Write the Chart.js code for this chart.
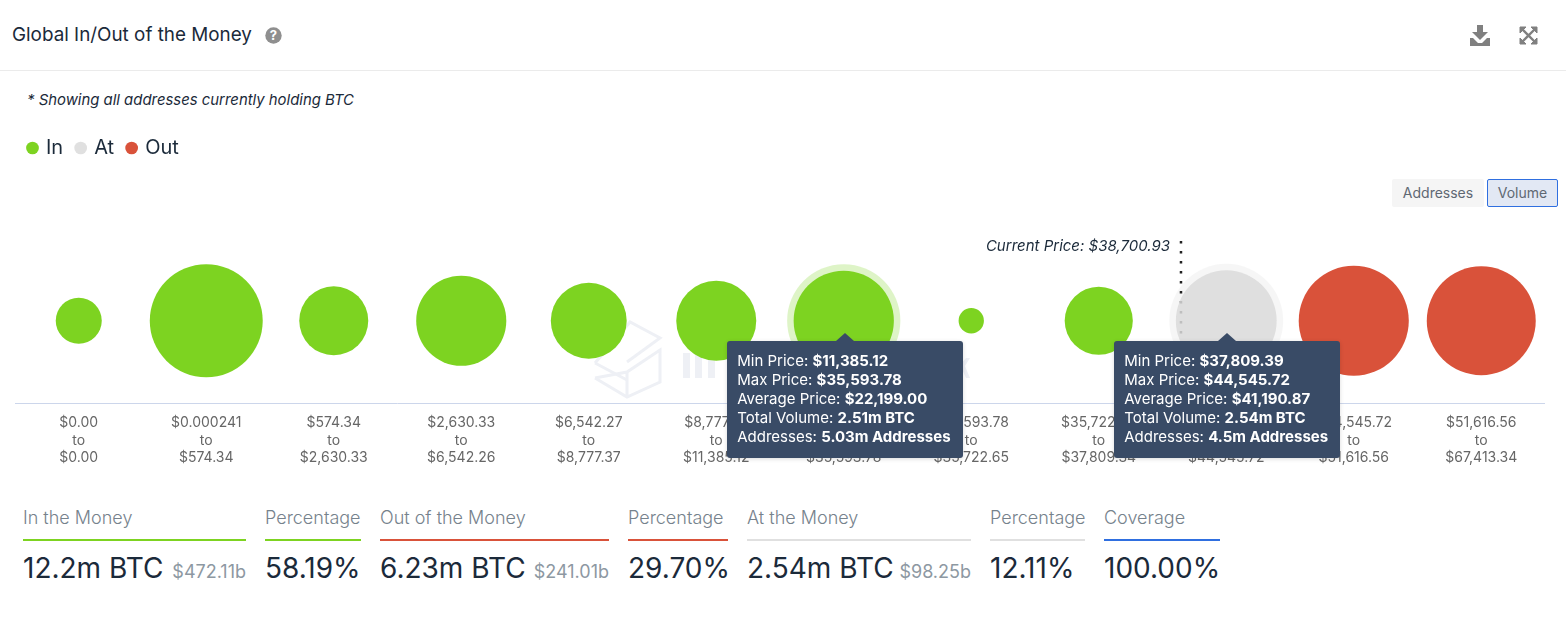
<!DOCTYPE html>
<html>
<head>
<meta charset="utf-8">
<title>Global In/Out of the Money</title>
<script src="https://cdn.jsdelivr.net/npm/chart.js@4"></script>
<style>
html, body { margin: 0; padding: 0; background: #fff; }
body { width: 1566px; height: 629px; position: relative; overflow: hidden; font-family: Inter, sans-serif; color: #1b2a3a; }
.abs { position: absolute; white-space: nowrap; }
#title { left: 12px; top: 23px; font-size: 18.85px; line-height: 24px; }
#rule { left: 0; top: 70px; width: 1566px; height: 1px; background: #ebebeb; }
#note { left: 27px; top: 91px; font-size: 14.9px; line-height: 18px; font-style: italic; }
#current { right: 396px; top: 237px; font-size: 15px; line-height: 18px; font-style: italic; }
.btn { top: 179px; height: 28px; line-height: 28px; text-align: center; font-size: 14px; color: #5f6873; box-sizing: border-box; border-radius: 2px; }
#btnA { left: 1392px; width: 92px; background: #f5f5f5; }
#btnV { left: 1487px; width: 71px; background: #e2e8f4; border: 1px solid #2f6fe0; line-height: 26px; }
#wrap { position: absolute; left: 15px; top: 124px; width: 1530px; height: 346px; }
.tip { position: absolute; top: 341px; background: #394b66; color: #fff; border-radius: 3px; padding: 10px 12px 12px 10px; font-size: 15px; line-height: 19px; white-space: nowrap; box-shadow: 0 1px 4px rgba(0,0,0,.15); }
.tip::before { content: ""; position: absolute; left: 50%; top: -8px; margin-left: -9px; border: 9px solid transparent; border-top: 0; border-bottom: 8px solid #394b66; }
.tip b { font-weight: 700; }
#stats { position: absolute; left: 23px; top: 506px; display: flex; gap: 19px; }
.stat { flex: none; }
.stat:nth-child(1) { width: 223px; }
.stat:nth-child(2) { width: 96px; }
.stat:nth-child(3) { width: 229px; }
.stat:nth-child(4) { width: 100px; }
.stat:nth-child(5) { width: 224px; }
.stat:nth-child(6) { width: 95px; }
.stat:nth-child(7) { width: 116px; }
.stat .lab { font-size: 18px; line-height: 24px; color: #76828c; font-weight: 300; padding-bottom: 9px; border-bottom: 2px solid; white-space: nowrap; }
.stat .val { font-size: 28px; line-height: 34px; margin-top: 10px; white-space: nowrap; color: #1b2a3a; display: flex; justify-content: space-between; align-items: baseline; }
.stat .val span { font-size: 18px; color: #8d98a2; margin-left: 4px; }
</style>
</head>
<body>
<!-- faint watermark behind the bubbles -->
<svg class="abs" style="left:590px;top:315px" width="380" height="90" viewBox="590 315 380 90">
  <g fill="none" stroke="#eef0f5" stroke-width="3">
    <path d="M630 322 L660 338 L627 362 M595 363 L627 380 M660 338 L630 322 L595 363"/>
    <path d="M595 378 L627 397 L660 382 L660 350 L627 372 L595 378 M627 372 L627 397"/>
  </g>
  <g fill="#eef0f5">
    <rect x="683" y="353" width="7" height="25"/><rect x="695" y="353" width="7" height="25"/><rect x="708" y="353" width="7" height="25"/>
    <rect x="955" y="345" width="5" height="33"/><path d="M960 365 L966 358 L970 358 L965 366 L970 378 L966 378 Z"/>
  </g>
</svg>

<div class="abs" id="title">Global In/Out of the Money</div>
<svg class="abs" style="left:265px;top:27px" width="17" height="17" viewBox="0 0 17 17">
  <circle cx="8.5" cy="8.5" r="8.2" fill="#8f8f8f"/>
  <text x="8.5" y="13" text-anchor="middle" font-family="Inter" font-size="13" font-weight="700" fill="#fff">?</text>
</svg>
<svg class="abs" style="left:1469px;top:24px" width="23" height="23" viewBox="0 0 23 23" fill="#808080">
  <path d="M8 1 H14 V8 H19 L11 16 L3 8 H8 Z"/>
  <path d="M1 14 H4 L9 19 H13 L18 14 H21 V22 H1 Z"/>
</svg>
<svg class="abs" style="left:1519px;top:26px" width="19" height="19" viewBox="0 0 19 19" fill="#808080" stroke="#808080">
  <path d="M1 1 H7 L1 7 Z M18 1 H12 L18 7 Z M1 18 H7 L1 12 Z M18 18 H12 L18 12 Z"/>
  <path d="M3 3 L16 16 M16 3 L3 16" stroke-width="2.4" fill="none"/>
</svg>
<div class="abs" id="rule"></div>
<div class="abs" id="note">* Showing all addresses currently holding BTC</div>
<div class="abs btn" id="btnA">Addresses</div>
<div class="abs btn" id="btnV">Volume</div>

<div id="wrap"><canvas id="myChart"></canvas></div>
<div class="abs" id="current">Current Price: $38,700.93</div>
<div id="tips"></div>
<div id="stats"></div>

<script>
var rangeFrom = ['$0.00', '$0.000241', '$574.34', '$2,630.33', '$6,542.27', '$8,777.37', '$11,385.12', '$35,593.78', '$35,722.65', '$37,809.39', '$44,545.72', '$51,616.56'];
var rangeTo = ['$0.00', '$574.34', '$2,630.33', '$6,542.26', '$8,777.37', '$11,385.12', '$35,593.78', '$35,722.65', '$37,809.34', '$44,545.72', '$51,616.56', '$67,413.34'];
// volume per price band, million BTC
var volumes = [0.53, 3.19, 1.19, 2.03, 1.44, 1.60, 2.51, 0.16, 1.16, 2.54, 3.03, 2.97];
var zones = ['In', 'In', 'In', 'In', 'In', 'In', 'In', 'In', 'In', 'At', 'Out', 'Out'];
var zoneNames = ['In', 'At', 'Out'];
var zoneColors = ['#7dd321', 'rgba(218,218,218,.85)', '#d9523a'];
var hoveredBands = [6, 9];
var haloColors = ['rgba(125,211,33,.25)', 'rgba(218,218,218,.25)'];
var currentPriceBand = [8.645];

var tipLabels = ['Min Price', 'Max Price', 'Average Price', 'Total Volume', 'Addresses'];
var tipValues = [
	['$11,385.12', '$35,593.78', '$22,199.00', '2.51m BTC', '5.03m Addresses'],
	['$37,809.39', '$44,545.72', '$41,190.87', '2.54m BTC', '4.5m Addresses']
];

var statLabels = ['In the Money', 'Percentage', 'Out of the Money', 'Percentage', 'At the Money', 'Percentage', 'Coverage'];
var statValues = ['12.2m BTC', '58.19%', '6.23m BTC', '29.70%', '2.54m BTC', '12.11%', '100.00%'];
var statSubs = ['$472.11b', '', '$241.01b', '', '$98.25b', '', ''];
var statColors = ['#7dd321', '#7dd321', '#d9523a', '#d9523a', '#e0e0e0', '#e0e0e0', '#2f6fe0'];

function bubbleRadius(v) {
	return Math.sqrt(v * 1000);
}

function bubblePoint(i, extra) {
	return { x: i, y: 0, r: bubbleRadius(volumes[i]) + extra };
}

var bubbleSets = zoneNames.map(function(name, z) {
	var pts = [];
	volumes.forEach(function(v, i) {
		if (zones[i] == name) pts.push(bubblePoint(i, 0));
	});
	return { label: name, data: pts, backgroundColor: zoneColors[z], borderWidth: 0, order: 1 };
});

var tips = document.getElementById('tips');
tipValues.forEach(function(vals) {
	var d = document.createElement('div');
	d.className = 'tip';
	d.innerHTML = vals.map(function(v, i) {
		return tipLabels[i] + ': <b>' + v + '</b>';
	}).join('<br>');
	tips.appendChild(d);
});

statLabels.forEach(function(lab, i) {
	var d = document.createElement('div');
	d.className = 'stat';
	d.innerHTML = '<div class="lab" style="border-color:' + statColors[i] + '">' + lab + '</div>' +
		'<div class="val">' + statValues[i] + (statSubs[i] ? '<span>' + statSubs[i] + '</span>' : '') + '</div>';
	document.getElementById('stats').appendChild(d);
});

// keeps the bubbles down at their row, legend stays up top
var legendGap = {
	id: 'legendGap',
	beforeInit: function(chart) {
		var fit = chart.legend.fit;
		chart.legend.fit = function() {
			fit.bind(this)();
			this.height += 70;
		};
	}
};

// hang the tooltip boxes under their bubbles
var placeTips = {
	id: 'placeTips',
	afterRender: function(chart) {
		var nodes = tips.children;
		hoveredBands.forEach(function(b, i) {
			var px = chart.scales.x.getPixelForValue(b) + 15;
			nodes[i].style.left = (px - nodes[i].offsetWidth / 2 + 1) + 'px';
		});
	}
};

var myChart = new Chart(document.getElementById('myChart'), {
	type: 'bubble',
	data: {
		datasets: bubbleSets.concat([
			{
				type: 'line',
				label: 'Current Price',
				data: [{ x: currentPriceBand[0], y: -1 }, { x: currentPriceBand[0], y: 0.98 }],
				borderColor: '#222',
				borderWidth: 2.5,
				borderDash: [2.5, 7.5],
				pointRadius: 0,
				order: 2
			},
			{
				label: 'Hover',
				data: hoveredBands.map(function(b) { return bubblePoint(b, 6.5); }),
				backgroundColor: haloColors,
				borderWidth: 0,
				order: 3
			}
		])
	},
	options: {
		responsive: true,
		maintainAspectRatio: false,
		animation: false,
		events: [],
		layout: { padding: 0, autoPadding: false },
		scales: {
			x: {
				type: 'linear',
				min: -0.5,
				max: 11.5,
				afterBuildTicks: function(scale) {
					scale.ticks = rangeFrom.map(function(r, i) { return { value: i }; });
				},
				grid: { display: false },
				border: { display: true, color: '#ccd6eb', width: 1 },
				ticks: {
					autoSkip: false,
					maxRotation: 0,
					padding: 3,
					color: '#666',
					font: { family: 'Inter', size: 14, lineHeight: 1.25 },
					callback: function(value) {
						return [rangeFrom[value], 'to', rangeTo[value]];
					}
				}
			},
			y: { display: false, min: -1, max: 1 }
		},
		plugins: {
			tooltip: { enabled: false },
			legend: {
				display: true,
				position: 'top',
				align: 'start',
				labels: {
					usePointStyle: true,
					boxWidth: 7,
					boxHeight: 9,
					padding: 14,
					color: '#1b2a3a',
					font: { family: 'Inter', size: 20 },
					filter: function(item) {
						return zoneNames.indexOf(item.text) >= 0;
					}
				}
			}
		}
	},
	plugins: [legendGap, placeTips]
});
</script>
</body>
</html>
